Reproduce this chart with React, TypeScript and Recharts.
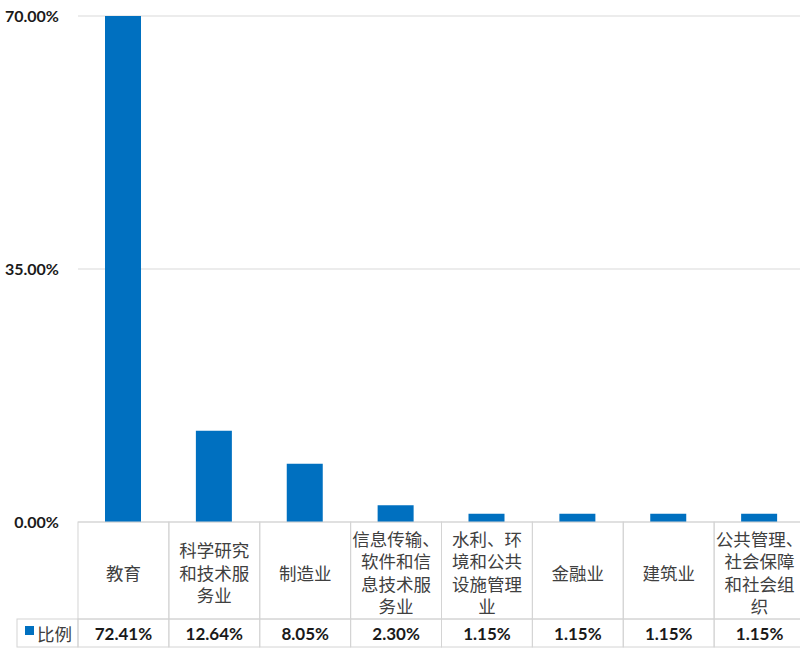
import React from 'react';
import { BarChart, Bar, XAxis, YAxis, CartesianGrid } from 'recharts';

const categories = [
  '教育',
  '科学研究和技术服务业',
  '制造业',
  '信息传输、软件和信息技术服务业',
  '水利、环境和公共设施管理业',
  '金融业',
  '建筑业',
  '公共管理、社会保障和社会组织',
];
const ratio = [0.7241, 0.1264, 0.0805, 0.023, 0.0115, 0.0115, 0.0115, 0.0115];
const yTicks = [0, 0.35, 0.7];
const seriesName = '比例';

const data = categories.map((name, i) => ({ name, value: ratio[i] }));

const BLUE = '#0070C0';
const BORDER = '#d4d4d4';
const TABLE_TOP = 522;
const ROW_SPLIT = 619;
const TABLE_BOTTOM = 647;
const HALF = 45.45;
const NUM_FONT = 'Lato, "Liberation Sans", sans-serif';
const CJK_FONT = '"Noto Sans CJK SC", sans-serif';

const pct = (v: number) => `${(v * 100).toFixed(2)}%`;

// 4 chars per line, keep a trailing 、 on the same line
const wrap = (s: string) => {
  const lines: string[] = [];
  let cur = '';
  for (const ch of s) {
    if (cur.length >= 4 && ch !== '、') {
      lines.push(cur);
      cur = '';
    }
    cur += ch;
  }
  if (cur) lines.push(cur);
  return lines;
};

const TableTick = (props: any) => {
  const { x, payload, index } = props;
  const lines = wrap(payload.value);
  const lh = 22.5;
  const center = 572;
  return (
    <g>
      {index === 0 && (
        <g>
          <rect x={17} y={ROW_SPLIT} width={x - HALF - 17} height={TABLE_BOTTOM - ROW_SPLIT} fill="none" stroke={BORDER} />
          <rect x={25} y={626} width={9} height={9} fill={BLUE} />
          <text x={37} y={633} fontSize={17.5} fontFamily={CJK_FONT} fill="#404040" dominantBaseline="central">
            {seriesName}
          </text>
        </g>
      )}
      <rect x={x - HALF} y={TABLE_TOP} width={HALF * 2} height={ROW_SPLIT - TABLE_TOP} fill="none" stroke={BORDER} />
      <rect x={x - HALF} y={ROW_SPLIT} width={HALF * 2} height={TABLE_BOTTOM - ROW_SPLIT} fill="none" stroke={BORDER} />
      {lines.map((l, i) => (
        <text
          key={i}
          x={x}
          y={center + (i - (lines.length - 1) / 2) * lh}
          textAnchor="middle"
          dominantBaseline="central"
          fontSize={17.5}
          fontFamily={CJK_FONT}
          fill="#404040"
        >
          {l}
        </text>
      ))}
      <text
        x={x}
        y={633}
        textAnchor="middle"
        dominantBaseline="central"
        fontSize={17}
        fontWeight="bold"
        fontFamily={NUM_FONT}
        fill="#1a1a1a"
      >
        {pct(ratio[index])}
      </text>
    </g>
  );
};

export default function App() {
  return (
    <div style={{ position: 'absolute', left: 0, top: 0, width: 800, height: 648, overflow: 'hidden', background: '#fff' }}>
      <BarChart width={805} height={648} data={data} margin={{ top: 16, right: 0, left: 0, bottom: 0 }}>
        <CartesianGrid horizontal vertical={false} stroke="#d9d9d9" />
        <XAxis dataKey="name" height={126} axisLine={false} tickLine={false} interval={0} tick={<TableTick />} />
        <YAxis
          width={78}
          domain={[0, 0.7]}
          ticks={yTicks}
          allowDataOverflow
          axisLine={false}
          tickLine={false}
          tickMargin={13}
          tickFormatter={pct}
          tick={{ fontSize: 16, fontWeight: 'bold', fill: '#1a1a1a', fontFamily: NUM_FONT }}
        />
        <Bar dataKey="value" fill={BLUE} barSize={36} isAnimationActive={false} />
      </BarChart>
    </div>
  );
}
